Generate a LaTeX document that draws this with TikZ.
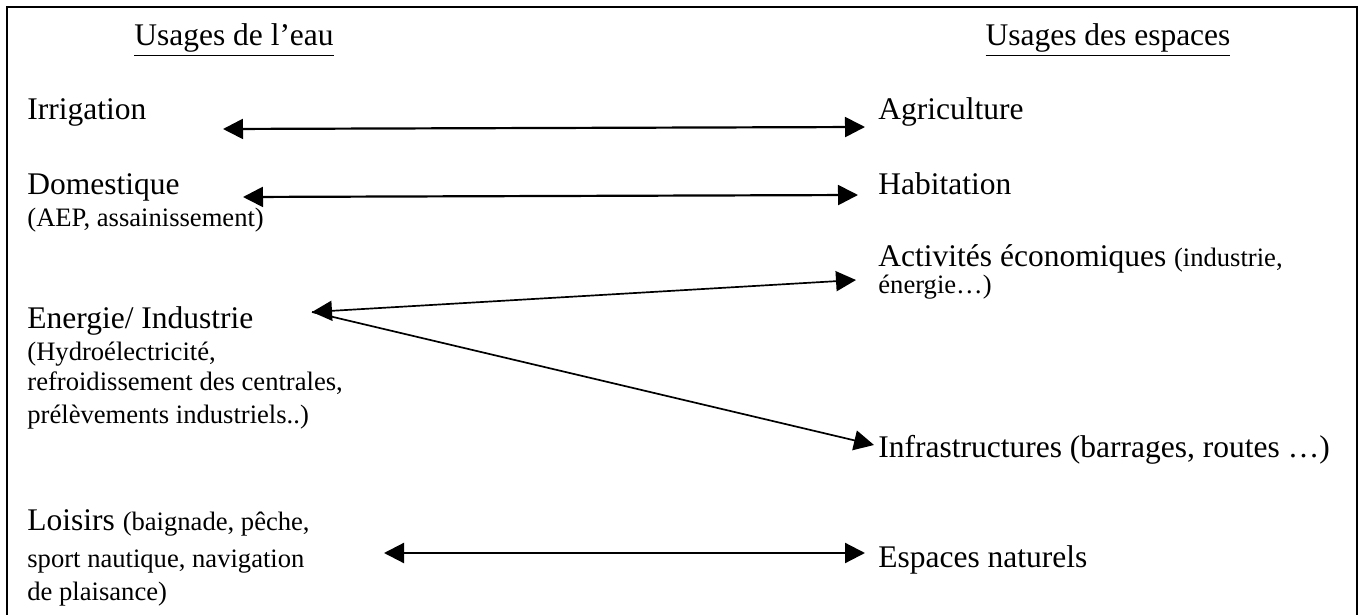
\documentclass[tikz,border=0pt]{standalone}
\usepackage{fontspec}
\setmainfont{Liberation Serif}
\usetikzlibrary{arrows.meta,positioning,calc}

\newcommand{\grand}{\fontsize{15.75}{18}\selectfont}
\newcommand{\petit}{\fontsize{13.3}{15}\selectfont}

\begin{document}
\begin{tikzpicture}[x=0.5pt, y=-0.5pt]
    % Define styles
    \tikzstyle{usage} = [anchor=base west, inner sep=0pt, font=\grand]
    \tikzstyle{detail} = [usage, font=\petit]
    \tikzstyle{title} = [anchor=base, inner sep=0pt, font=\grand]
    \tikzstyle{arrow} = [line width=1.1pt, {Triangle[length=10pt,width=10pt]}-{Triangle[length=10pt,width=10pt]}]
    \tikzstyle{thinarrow} = [line width=0.85pt, -{Triangle[length=10pt,width=10pt]}]

    \useasboundingbox (0,0) rectangle (1361,615);
    \draw[line width=1pt] (7,615) -- (7,7) -- (1357,7) -- (1357,615);

    % Titles
    \node [title] (eau) at (234,46) {\underline{Usages de l’eau}};
    \node [title] (espaces) at (1108,46) {\underline{Usages des espaces}};

    % Water uses
    \node [usage] (irrigation) at (27,120) {Irrigation};
    \node [usage] (domestique) at (27,194) {Domestique};
    \node [detail] (aep) at (27,227) {(AEP, assainissement)};
    \node [usage] (energie) at (27,328) {Energie/ Industrie};
    \node [detail] (hydro) at (27,360) {(Hydroélectricité,};
    \node [detail] (refroid) at (27,390) {refroidissement des centrales,};
    \node [detail] (prelev) at (27,423) {prélèvements industriels..)};
    \node [usage] (loisirs) at (27,530) {Loisirs {\petit (baignade, pêche,}};
    \node [detail] (sport) at (27,567) {sport nautique, navigation};
    \node [detail] (plaisance) at (27,600) {de plaisance)};

    % Space uses
    \node [usage] (agriculture) at (878,120) {Agriculture};
    \node [usage] (habitation) at (878,194) {Habitation};
    \node [usage] (activites) at (878,266) {Activités économiques {\petit (industrie,}};
    \node [detail] (energieb) at (878,293) {énergie…)};
    \node [usage] (infra) at (878,457) {Infrastructures (barrages, routes …)};
    \node [usage] (naturels) at (878,567) {Espaces naturels};

    % Arrow ends
    \coordinate (irrigation-r) at (223,129);
    \coordinate (agriculture-l) at (865,127);
    \coordinate (domestique-r) at (243,197);
    \coordinate (habitation-l) at (858,195);
    \coordinate (energie-r) at (312,312);
    \coordinate (activites-l) at (856,280);
    \coordinate (infra-l) at (874,445);
    \coordinate (loisirs-r) at (384,553);
    \coordinate (naturels-l) at (865,553);

    % Arrows
    \draw [arrow] (irrigation-r) -- (agriculture-l);
    \draw [arrow] (domestique-r) -- (habitation-l);
    \draw [arrow, line width=0.85pt] (energie-r) -- (activites-l);
    \draw [thinarrow] (energie-r) -- (infra-l);
    \draw [arrow] (loisirs-r) -- (naturels-l);
\end{tikzpicture}
\end{document}
